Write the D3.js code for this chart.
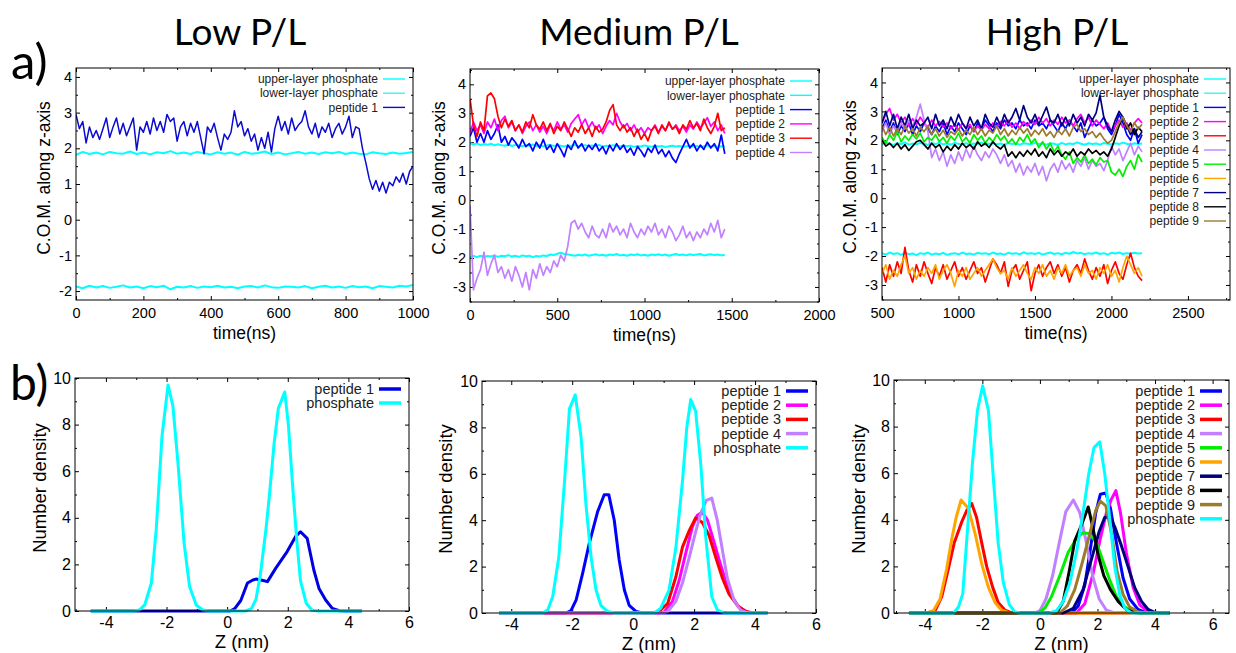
<!DOCTYPE html>
<html>
<head>
<meta charset="utf-8">
<script src="https://cdn.jsdelivr.net/npm/d3@7/dist/d3.min.js"></script>
<style>
  body { margin: 0; background: #fff; }
  svg text { font-family: "Liberation Sans", Arimo, Arial, Helvetica, sans-serif; fill: #111; }
</style>
</head>
<body>
<script>
// ---------- data: a) centre of mass vs time ----------

// Low P/L (t0 = 0, every 10 ns for the peptide, every 20 ns for phosphates)
var lowPeptide1 = [2.95,2.55,2.75,2.15,2.6,2.3,2.5,2.25,2.55,2.85,2.3,2.6,2.85,2.4,2.7,2.35,2.6,2.85,1.95,2.6,
  2.45,2.75,2.4,2.85,2.5,2.75,2.45,2.95,2.75,2.85,2.2,2.6,2.75,2.35,2.7,2.45,2.75,2.3,1.85,2.6,
  2.45,2.7,2.3,1.95,2.4,2.25,2.45,3.05,2.6,2.75,2.35,2.55,2.2,2.4,1.95,2.3,2.0,2.45,1.9,2.55,
  2.9,2.5,2.75,2.4,2.85,2.5,2.65,2.75,3.05,2.6,2.4,2.7,2.3,2.6,2.45,2.7,2.3,2.55,2.7,2.4,
  2.6,2.9,2.3,2.6,2.55,2.0,1.6,1.15,0.85,1.1,0.8,1.05,0.75,1.05,0.95,1.2,1.05,1.3,1.0,1.35,1.5];
var lowUpperPhos = [1.82,1.9,1.84,1.88,1.83,1.9,1.86,1.85,1.91,1.84,1.88,1.83,1.89,1.86,1.92,1.85,1.88,1.84,1.9,1.86,
  1.83,1.89,1.85,1.88,1.82,1.9,1.85,1.87,1.91,1.84,1.88,1.83,1.86,1.9,1.85,1.88,1.84,1.89,1.86,1.9,
  1.84,1.88,1.85,1.83,1.89,1.86,1.84,1.88,1.85,1.87,1.9];
var lowLowerPhos = [-1.87,-1.92,-1.85,-1.9,-1.86,-1.91,-1.88,-1.84,-1.9,-1.87,-1.92,-1.86,-1.89,-1.85,-1.95,-1.88,-1.9,-1.86,-1.91,-1.87,
  -1.89,-1.85,-1.9,-1.88,-1.92,-1.87,-1.86,-1.9,-1.84,-1.89,-1.91,-1.87,-1.88,-1.9,-1.86,-1.92,-1.88,-1.85,-1.9,-1.87,
  -1.91,-1.86,-1.89,-1.87,-1.92,-1.86,-1.88,-1.9,-1.85,-1.87,-1.83];

// Medium P/L (t0 = 0, every 20 ns)
var medPeptide1 = [2.2,2.5,2.0,2.3,2.0,2.4,2.1,2.3,2.6,2.0,2.2,1.9,2.15,2.0,1.8,2.1,1.85,1.95,1.7,2.0,
  1.8,2.1,1.75,1.9,1.65,1.95,1.75,1.5,1.9,1.75,2.05,1.8,1.95,1.7,1.9,1.75,1.95,1.7,1.85,1.6,
  1.9,1.7,1.95,1.75,1.9,1.65,1.8,1.55,1.85,1.7,1.5,1.8,1.65,1.9,1.6,1.75,1.5,1.7,1.45,1.3,
  1.6,1.85,2.1,1.8,1.95,1.7,1.9,1.75,2.0,1.8,1.95,1.7,2.25,1.6];
var medPeptide2 = [2.3,2.7,2.4,2.6,2.3,2.7,2.5,2.8,2.4,2.75,2.9,2.5,2.7,2.4,2.6,2.3,2.55,2.7,2.4,2.6,
  2.35,2.55,2.3,2.6,2.4,2.7,2.45,2.6,2.35,2.65,2.8,2.95,2.6,2.8,2.5,2.7,2.45,2.6,2.3,2.55,
  2.75,2.6,3.0,2.7,2.5,2.65,2.4,2.6,2.35,2.5,2.3,2.5,2.4,2.6,2.35,2.55,2.4,2.65,2.45,2.6,
  2.4,2.55,2.35,2.6,2.45,2.7,2.5,2.65,2.85,2.55,2.7,2.4,2.6,2.3];
var medPeptide3 = [3.5,2.6,2.2,2.7,2.4,3.6,3.7,3.5,2.9,2.5,2.8,2.55,2.75,2.4,2.6,2.35,2.7,2.5,2.95,2.6,
  2.45,2.7,2.4,2.65,2.3,2.55,2.4,2.7,2.45,2.2,2.5,2.35,2.6,2.3,2.5,2.2,2.55,2.35,2.45,2.7,
  3.1,3.3,2.6,2.4,2.6,2.35,2.5,2.2,2.45,2.1,2.3,2.05,2.4,2.55,2.3,2.6,2.4,2.7,2.45,2.55,
  2.3,2.6,2.45,2.75,2.5,2.65,2.4,2.8,2.5,2.3,2.55,3.0,2.4,2.5];
var medPeptide4 = [-0.2,-3.1,-2.7,-2.4,-1.8,-2.6,-2.2,-1.9,-2.5,-2.3,-2.7,-2.4,-2.8,-2.3,-2.6,-3.0,-2.5,-3.1,-2.4,-2.7,
  -2.2,-2.6,-2.3,-2.5,-2.1,-2.3,-1.9,-2.1,-1.6,-0.8,-0.7,-1.0,-0.8,-1.1,-1.3,-0.9,-1.2,-1.3,-1.0,-1.3,
  -0.8,-1.1,-0.9,-1.2,-1.0,-1.3,-0.8,-1.1,-1.3,-1.0,-1.2,-0.9,-1.1,-0.8,-1.2,-1.0,-1.3,-0.9,-1.1,-1.4,
  -1.2,-0.9,-1.3,-1.1,-1.4,-1.1,-1.3,-1.0,-1.2,-0.8,-1.1,-0.7,-1.3,-1.0];
var medUpperPhos = [1.97,1.92,1.96,1.9,1.94,1.91,1.95,1.89,1.93,1.9,1.88,1.92,1.87,1.91,1.89,1.86,1.9,1.88,1.92,1.87,
  1.9,1.86,1.89,1.91,1.87,1.9,1.88,1.85,1.89,1.87,1.91,1.86,1.88,1.9,1.86,1.89,1.87,1.91,1.85,1.88,
  1.86,1.9,1.87,1.85,1.89,1.86,1.88,1.84,1.87,1.85,1.89,1.86,1.84,1.88,1.85,1.87,1.83,1.86,1.88,1.85,
  1.87,1.84,1.86,1.88,1.85,1.87,1.84,1.86,1.89,1.85,1.87,1.84,1.86,1.85];
var medLowerPhos = [-1.98,-1.93,-1.97,-1.92,-1.96,-1.93,-1.95,-1.91,-1.96,-1.92,-1.94,-1.9,-1.95,-1.92,-1.96,-1.91,-1.94,-1.92,-1.97,-1.93,
  -1.95,-1.91,-1.93,-1.88,-1.9,-1.85,-1.82,-1.86,-1.88,-1.9,-1.92,-1.89,-1.91,-1.88,-1.92,-1.9,-1.87,-1.91,-1.89,-1.92,
  -1.88,-1.9,-1.86,-1.91,-1.89,-1.92,-1.88,-1.9,-1.87,-1.91,-1.89,-1.92,-1.88,-1.9,-1.87,-1.91,-1.88,-1.92,-1.89,-1.86,
  -1.9,-1.88,-1.91,-1.87,-1.9,-1.88,-1.86,-1.91,-1.89,-1.87,-1.9,-1.88,-1.91,-1.89];

// High P/L (t0 = 500, every 25 ns)
var highPeptide1 = [2.4,2.7,2.3,2.6,2.2,2.5,2.3,2.6,2.2,2.5,2.3,2.6,2.4,2.2,2.5,2.3,2.6,2.2,2.5,2.3,
  2.6,2.4,2.2,2.5,2.3,2.6,2.4,2.7,2.5,2.3,2.6,2.4,2.7,2.5,2.6,2.4,2.7,2.5,2.6,2.4,
  2.7,2.5,2.6,2.4,2.7,2.5,2.3,2.6,2.4,2.7,2.5,2.3,2.6,2.1,2.4,2.7,2.5,2.6,2.8,2.4,
  2.2,2.5,2.9,2.6,2.2,2.0,2.4,1.9,2.2];
var highPeptide2 = [2.6,2.9,3.1,2.7,2.9,2.6,2.8,2.5,2.75,2.55,2.8,2.6,2.45,2.7,2.5,2.65,2.45,2.6,2.4,2.55,
  2.35,2.6,2.4,2.55,2.3,2.5,2.35,2.55,2.4,2.6,2.45,2.65,2.5,2.7,2.45,2.6,2.4,2.65,2.5,2.7,
  2.55,2.8,2.6,2.75,2.5,2.7,2.55,2.8,2.6,2.7,2.5,2.75,2.9,2.6,2.8,2.5,2.7,2.55,2.4,2.6,
  2.3,2.5,2.7,2.45,2.6,2.35,2.6,2.75,2.6];
var highPeptide3 = [-2.4,-2.9,-2.3,-2.7,-2.2,-2.6,-1.7,-2.5,-2.9,-2.3,-2.7,-2.2,-2.6,-2.95,-2.4,-2.7,-2.3,-2.8,-2.5,-2.2,
  -2.7,-2.4,-2.8,-2.5,-2.2,-2.6,-2.4,-2.9,-2.5,-2.1,-2.3,-2.6,-2.2,-3.05,-2.5,-2.3,-2.8,-2.5,-2.2,-3.2,
  -2.6,-2.3,-2.7,-2.4,-2.2,-2.6,-2.3,-2.7,-2.4,-2.9,-2.5,-2.3,-2.6,-2.1,-2.5,-2.8,-2.4,-2.7,-2.3,-2.95,
  -2.5,-2.2,-2.6,-2.8,-2.3,-1.9,-2.4,-2.7,-2.85];
var highPeptide4 = [2.3,2.6,2.2,2.5,2.3,2.6,2.4,2.7,2.5,2.8,3.25,2.7,2.3,1.4,1.7,1.3,1.6,1.1,1.5,1.2,
  1.6,1.3,1.7,1.4,1.8,1.5,1.3,1.6,1.4,1.7,1.5,1.2,1.5,1.1,1.3,0.9,1.2,0.8,1.1,0.9,
  1.2,0.8,1.1,0.6,1.0,1.2,0.9,1.3,1.0,1.2,0.9,1.3,1.1,1.4,1.0,1.3,1.1,1.2,0.95,1.3,
  1.8,1.5,1.7,1.3,1.6,1.9,1.5,1.8,1.6];
var highPeptide5 = [2.1,1.9,2.2,2.0,2.3,1.95,2.15,2.0,2.2,2.05,2.25,1.95,2.1,2.0,2.2,1.95,2.1,1.9,2.15,2.0,
  2.25,1.95,2.1,1.9,2.2,2.0,2.15,1.9,2.1,1.95,2.2,2.0,2.15,1.9,2.05,1.85,2.1,1.95,2.2,1.9,
  2.05,1.75,1.95,1.7,1.9,1.6,1.8,1.5,1.35,1.6,1.2,1.4,1.25,1.5,1.2,1.35,1.15,1.4,1.25,1.3,
  0.9,0.8,1.0,0.75,1.1,1.3,1.0,1.5,1.25];
var highPeptide6 = [-2.6,-2.3,-2.8,-2.5,-2.7,-2.3,-2.0,-2.6,-2.4,-2.8,-2.5,-2.7,-2.4,-2.6,-2.3,-2.8,-2.5,-2.3,-2.6,-3.05,
  -2.5,-2.7,-2.4,-2.8,-2.6,-2.4,-2.7,-2.5,-2.3,-2.1,-2.4,-2.6,-2.5,-2.8,-2.4,-2.7,-2.5,-2.3,-2.6,-2.8,
  -2.4,-2.6,-2.3,-2.7,-2.5,-2.8,-2.4,-2.6,-2.3,-2.7,-2.5,-2.4,-2.7,-2.3,-2.6,-2.5,-2.8,-2.4,-2.6,-2.3,
  -2.7,-2.5,-2.9,-2.4,-2.0,-2.3,-2.6,-2.4,-2.7];
var highPeptide7 = [2.6,3.0,2.5,2.9,2.4,2.8,2.5,2.9,2.4,2.7,2.5,2.6,2.8,2.4,2.9,2.5,2.7,2.4,2.8,2.5,
  2.9,2.6,2.4,2.8,2.5,2.7,2.4,2.9,2.6,2.45,2.8,2.5,2.9,2.6,2.8,3.1,2.7,3.2,2.8,2.6,
  2.9,2.55,2.85,3.15,2.7,2.6,2.9,2.5,2.8,2.5,2.9,2.6,2.8,2.5,2.9,2.7,2.95,3.55,2.8,2.5,
  2.3,2.7,3.0,2.8,2.5,2.2,2.4,2.1,2.3];
var highPeptide8 = [2.0,1.8,1.9,1.75,1.9,1.7,1.85,1.65,1.8,1.95,2.0,1.85,1.7,1.9,1.75,1.85,1.6,1.8,1.65,1.85,
  1.7,1.9,1.75,1.85,1.7,1.95,1.8,1.9,1.75,1.95,1.8,1.7,1.85,1.45,1.6,1.4,1.6,1.45,1.65,1.5,
  1.7,1.45,1.6,1.4,1.7,1.5,1.65,1.45,1.6,1.5,1.7,1.45,1.6,1.5,1.7,1.55,1.65,1.5,1.6,1.45,
  1.7,2.1,2.5,2.8,2.4,2.6,2.2,2.45,2.3];
var highPeptide9 = [2.5,2.2,2.45,2.15,2.4,2.2,2.5,2.25,2.4,2.15,2.45,2.3,2.5,2.2,2.4,2.15,2.35,2.1,2.3,2.2,
  2.4,2.15,2.35,2.2,2.45,2.2,2.4,2.15,2.35,2.25,2.5,2.2,2.4,2.15,2.35,2.2,2.45,2.25,2.4,2.15,
  2.35,2.2,2.4,2.15,2.3,2.1,2.35,2.2,2.4,2.15,2.45,2.55,2.3,2.4,2.2,2.3,2.1,2.25,2.05,1.9,
  2.0,2.3,2.6,2.8,2.5,2.3,2.6,2.4,2.55];
var highUpperPhos = [1.86,1.92,1.88,1.84,1.9,1.87,1.93,1.85,1.89,1.86,1.91,1.88,1.84,1.9,1.87,1.92,1.86,1.89,1.85,1.91,
  1.88,1.86,1.9,1.84,1.89,1.87,1.92,1.85,1.88,1.9,1.86,1.89,1.84,1.91,1.87,1.89,1.85,1.9,1.88,1.86,
  1.92,1.87,1.89,1.85,1.9,1.88,1.84,1.91,1.86,1.89,1.87,1.93,1.88,1.85,1.9,1.87,1.89,1.85,1.91,1.88,
  1.86,1.9,1.87,1.92,1.88,1.85,1.9,1.87,1.89];
var highLowerPhos = [-1.9,-1.95,-1.88,-1.93,-1.9,-1.96,-1.89,-1.94,-1.91,-1.97,-1.9,-1.93,-1.88,-1.95,-1.91,-1.94,-1.89,-1.96,-1.92,-1.9,
  -1.94,-1.88,-1.93,-1.91,-1.95,-1.89,-1.92,-1.9,-1.94,-1.88,-1.93,-1.91,-1.95,-1.89,-1.92,-1.9,-1.94,-1.87,-1.92,-1.9,
  -1.93,-1.89,-1.95,-1.91,-1.88,-1.93,-1.9,-1.94,-1.89,-1.92,-1.86,-1.91,-1.89,-1.94,-1.9,-1.92,-1.88,-1.93,-1.9,-1.95,
  -1.89,-1.91,-1.88,-1.93,-1.9,-1.92,-1.89,-1.91,-1.9];

// ---------- data: b) number density vs Z, [z (nm), density] ----------
var lowDensPeptide1 = [[-4.5,0],[0.1,0],[0.25,0.1],[0.45,0.45],[0.67,1.2],[0.85,1.33],[0.95,1.37],[1.15,1.32],[1.33,1.26],
  [1.6,1.83],[1.98,2.55],[2.26,3.2],[2.42,3.4],[2.64,3.12],[2.86,1.76],[3.03,0.97],[3.25,0.47],[3.47,0.11],[3.7,0.01],[3.9,0],[4.45,0]];
var lowDensPhos = [[-4.5,0],[-3.1,0],[-2.9,0.04],[-2.72,0.26],[-2.5,1.2],[-2.34,3.5],[-2.15,7.5],[-1.95,9.7],[-1.79,8.8],
  [-1.62,6.3],[-1.42,2.9],[-1.24,1.05],[-1.02,0.26],[-0.8,0.04],[-0.6,0],[0.6,0],[0.8,0.1],[0.95,0.5],[1.09,1.5],[1.28,3.5],
  [1.39,4.9],[1.55,7.2],[1.69,8.7],[1.9,9.4],[2.02,8.0],[2.17,5.2],[2.3,3.0],[2.42,1.3],[2.61,0.33],[2.8,0.03],[3.0,0],[4.45,0]];

var medDensPeptide1 = [[-4.4,0],[-2.2,0],[-2.04,0.1],[-1.87,0.57],[-1.66,1.7],[-1.44,3.0],[-1.17,4.35],[-0.95,5.1],[-0.8,5.1],
  [-0.62,4.0],[-0.46,2.3],[-0.29,1.0],[-0.13,0.33],[0.09,0.07],[0.31,0],[4.4,0]];
var medDensPeptide2 = [[-4.4,0],[0.85,0],[1.02,0.05],[1.29,0.5],[1.51,1.4],[1.73,2.6],[1.94,3.7],[2.1,4.2],[2.27,4.35],[2.44,4.0],
  [2.6,3.3],[2.82,2.3],[3.03,1.4],[3.25,0.7],[3.47,0.25],[3.74,0.05],[3.96,0],[4.4,0]];
var medDensPeptide3 = [[-4.4,0],[0.7,0],[0.85,0.07],[1.13,0.4],[1.4,1.55],[1.62,2.85],[1.84,3.55],[2.05,4.1],[2.27,3.9],[2.49,3.35],
  [2.71,2.4],[2.93,1.5],[3.14,0.83],[3.42,0.33],[3.69,0.07],[3.9,0],[4.4,0]];
var medDensPeptide4 = [[-4.4,0],[0.95,0],[1.13,0.05],[1.4,0.5],[1.62,1.3],[1.84,2.4],[2.05,3.5],[2.22,4.3],[2.4,4.85],[2.58,4.95],
  [2.76,4.0],[2.93,2.7],[3.09,1.5],[3.31,0.55],[3.53,0.12],[3.74,0],[4.4,0]];
var medDensPhos = [[-4.4,0],[-2.96,0],[-2.8,0.14],[-2.64,0.7],[-2.44,2.4],[-2.25,5.7],[-2.09,8.8],[-1.9,9.4],[-1.71,7.6],[-1.55,4.7],
  [-1.38,2.4],[-1.22,1.0],[-1.06,0.33],[-0.84,0.07],[-0.62,0],[0.69,0],[0.9,0.2],[1.18,1.0],[1.4,2.8],[1.62,5.7],[1.76,8.0],
  [1.89,9.2],[2.05,8.7],[2.22,6.4],[2.38,3.3],[2.58,0.7],[2.76,0.14],[2.98,0],[4.4,0]];

var highDensPeptide1 = [[-4.55,0],[1.1,0],[1.33,0.3],[1.56,1.2],[1.76,2.8],[1.94,4.3],[2.1,5.1],[2.29,5.15],[2.45,4.5],[2.66,3.0],
  [2.89,1.5],[3.12,0.6],[3.41,0.15],[3.7,0],[4.5,0]];
var highDensPeptide2 = [[-4.55,0],[1.27,0],[1.56,0.4],[1.85,1.7],[2.1,3.2],[2.31,4.3],[2.49,4.9],[2.64,5.25],[2.8,4.3],[3.0,2.6],
  [3.24,1.1],[3.47,0.35],[3.76,0.05],[3.99,0],[4.5,0]];
var highDensPeptide3 = [[-4.55,0],[-3.93,0],[-3.64,0.1],[-3.41,0.7],[-3.18,1.9],[-2.98,3.0],[-2.72,3.9],[-2.54,4.4],[-2.37,4.7],
  [-2.2,4.1],[-2.02,3.0],[-1.85,2.0],[-1.64,1.1],[-1.45,0.45],[-1.21,0.12],[-0.98,0],[4.5,0]];
var highDensPeptide4 = [[-4.55,0],[-0.17,0],[0,0.1],[0.21,0.6],[0.44,1.6],[0.67,3.0],[0.9,4.35],[1.16,4.85],[1.39,4.3],[1.6,3.1],
  [1.83,1.6],[2.06,0.6],[2.31,0.12],[2.6,0],[4.5,0]];
var highDensPeptide5 = [[-4.55,0],[-0.06,0],[0.17,0.2],[0.4,0.7],[0.69,1.6],[0.98,2.6],[1.27,3.2],[1.5,3.45],[1.73,3.4],[1.97,3.0],
  [2.2,2.2],[2.43,1.4],[2.66,0.7],[2.95,0.25],[3.24,0.05],[3.47,0],[4.5,0]];
var highDensPeptide6 = [[-4.55,0],[-3.93,0],[-3.7,0.1],[-3.47,0.6],[-3.24,1.9],[-3.06,3.2],[-2.91,4.1],[-2.74,4.85],[-2.49,4.5],
  [-2.25,3.4],[-2.02,2.1],[-1.79,1.1],[-1.56,0.45],[-1.33,0.12],[-1.04,0],[4.5,0]];
var highDensPeptide7 = [[-4.55,0],[0.81,0],[1.16,0.2],[1.5,1.0],[1.79,2.3],[2.06,3.5],[2.25,4.1],[2.43,4.15],[2.6,3.7],[2.83,2.9],
  [3.06,2.0],[3.29,1.1],[3.53,0.5],[3.76,0.15],[3.99,0.03],[4.22,0],[4.5,0]];
var highDensPeptide8 = [[-4.55,0],[0.58,0],[0.81,0.5],[1.02,1.8],[1.21,3.1],[1.45,3.8],[1.68,4.55],[1.85,3.6],[2.02,2.5],[2.22,1.6],
  [2.45,1.0],[2.72,0.5],[3.0,0.15],[3.29,0.02],[3.53,0],[4.5,0]];
var highDensPeptide9 = [[-4.55,0],[0.69,0],[0.95,0.3],[1.21,1.0],[1.48,2.2],[1.73,3.4],[1.94,4.4],[2.1,4.8],[2.29,4.6],[2.49,3.4],
  [2.68,1.8],[2.89,0.8],[3.12,0.25],[3.41,0.05],[3.64,0],[4.5,0]];
var highDensPhos = [[-4.55,0],[-3.0,0],[-2.83,0.26],[-2.68,0.83],[-2.52,3.5],[-2.34,6.5],[-2.17,8.7],[-1.99,9.75],[-1.79,8.7],
  [-1.6,5.5],[-1.45,3.0],[-1.27,1.3],[-1.06,0.35],[-0.87,0.05],[-0.69,0],[0.35,0],[0.58,0.1],[0.81,0.5],[1.04,1.3],[1.27,2.6],
  [1.5,4.3],[1.7,6.0],[1.88,7.1],[2.08,7.35],[2.25,6.0],[2.43,4.0],[2.6,2.0],[2.77,0.8],[2.95,0.2],[3.18,0],[4.5,0]];

// ---------- tick values ----------
var lowTimeTicks = [0, 200, 400, 600, 800, 1000];
var medTimeTicks = [0, 500, 1000, 1500, 2000];
var highTimeTicks = [500, 1000, 1500, 2000, 2500];
var comTicksLow = [-2, -1, 0, 1, 2, 3, 4];
var comTicks = [-3, -2, -1, 0, 1, 2, 3, 4];
var zTicks = [-4, -2, 0, 2, 4, 6];
var densTicks = [0, 2, 4, 6, 8, 10];

var titles = ["Low P/L", "Medium P/L", "High P/L"];

// colours
var cyan = "#00ffff", cyanLow = "#3ff2f2", blue = "#0000ff", magenta = "#ff00ff", red = "#ff0000",
  lavender = "#c080ff", green = "#00ee00", orange = "#ffa500", navy = "#000080", black = "#000000", brown = "#9c7b2c";

var plainFont = "'Liberation Sans', Arimo, Arial, Helvetica, sans-serif";

var svg = d3.select("body").append("svg")
  .attr("width", 1236)
  .attr("height", 653);

// titles and panel letters
[240, 639, 1057].forEach(function (cx, i) {
  svg.append("text").attr("x", cx).attr("y", 45).attr("text-anchor", "middle")
    .style("font-family", "Lato, 'Open Sans', sans-serif").style("font-size", "37px").style("fill", "#000")
    .text(titles[i]);
});
svg.append("text").attr("x", 11).attr("y", 79).style("font-family", "Lato, sans-serif")
  .style("font-size", "49px").style("fill", "#000").text("a)");
svg.append("text").attr("x", 10).attr("y", 400).style("font-family", "Lato, sans-serif")
  .style("font-size", "48px").style("fill", "#000").text("b)");

var clipCount = 0;

function minorBetween(ticks, step) {
  // minor ticks halfway between majors, plus one beyond each end
  var out = [];
  ticks.forEach(function (t) { out.push(t - step / 2); });
  out.push(ticks[ticks.length - 1] + step / 2);
  return out;
}

function drawPanel(p) {
  var x = d3.scaleLinear().domain(p.xDomain).range([p.left, p.right]);
  var y = d3.scaleLinear().domain(p.yDomain).range([p.bottom, p.top]);
  var g = svg.append("g");
  var id = "clip" + (clipCount++);
  svg.append("clipPath").attr("id", id).append("rect")
    .attr("x", p.left).attr("y", p.top)
    .attr("width", p.right - p.left).attr("height", p.bottom - p.top + p.clipExtra);

  var xMinor = minorBetween(p.xTicks, p.xTicks[1] - p.xTicks[0]).filter(function (v) { return v > p.xDomain[0] && v < p.xDomain[1]; });
  var yMinor = minorBetween(p.yTicks, p.yTicks[1] - p.yTicks[0]).filter(function (v) { return v > p.yDomain[0] && v < p.yDomain[1]; });
  var fmt = function (d) { return String(d); };

  var axB = g.append("g").attr("transform", "translate(0," + p.bottom + ")")
    .call(d3.axisBottom(x).tickValues(p.xTicks).tickSize(-4).tickPadding(p.xPad).tickFormat(fmt));
  var axL = g.append("g").attr("transform", "translate(" + p.left + ",0)")
    .call(d3.axisLeft(y).tickValues(p.yTicks).tickSize(-4).tickPadding(4).tickFormat(fmt));
  g.append("g").attr("transform", "translate(0," + p.top + ")")
    .call(d3.axisTop(x).tickValues(p.xTicks).tickSize(-4).tickFormat(""));
  g.append("g").attr("transform", "translate(" + p.right + ",0)")
    .call(d3.axisRight(y).tickValues(p.yTicks).tickSize(-4).tickFormat(""));
  g.append("g").attr("transform", "translate(0," + p.bottom + ")")
    .call(d3.axisBottom(x).tickValues(xMinor).tickSize(-2).tickFormat(""));
  g.append("g").attr("transform", "translate(0," + p.top + ")")
    .call(d3.axisTop(x).tickValues(xMinor).tickSize(-2).tickFormat(""));
  g.append("g").attr("transform", "translate(" + p.left + ",0)")
    .call(d3.axisLeft(y).tickValues(yMinor).tickSize(-2).tickFormat(""));
  g.append("g").attr("transform", "translate(" + p.right + ",0)")
    .call(d3.axisRight(y).tickValues(yMinor).tickSize(-2).tickFormat(""));
  g.selectAll(".domain").remove();
  g.selectAll(".tick line").attr("stroke", "#000");
  [axB, axL].forEach(function (ax) {
    ax.selectAll("text").style("font-family", plainFont)
      .style("font-size", p.tickFont + "px").style("fill", "#000");
  });

  var line = d3.line().x(function (d) { return x(d[0]); }).y(function (d) { return y(d[1]); });
  var lines = g.append("g").attr("clip-path", "url(#" + id + ")");
  p.series.forEach(function (s) {
    var pts = s.points || s.values.map(function (v, i) { return [s.t0 + i * s.dt, v]; });
    lines.append("path").datum(pts)
      .attr("d", line)
      .attr("fill", "none")
      .attr("stroke", s.color)
      .attr("stroke-width", s.width || p.lineWidth)
      .attr("stroke-linejoin", "round");
  });

  g.append("rect")
    .attr("x", p.left).attr("y", p.top)
    .attr("width", p.right - p.left).attr("height", p.bottom - p.top)
    .attr("fill", "none").attr("stroke", "#000").attr("stroke-width", 1);

  // legend, gnuplot style: label right-aligned, sample to its right
  p.series.forEach(function (s, i) {
    var ly = p.legY + i * p.legStep;
    g.append("text").attr("x", p.legX).attr("y", ly).attr("dy", "0.35em")
      .attr("text-anchor", "end").style("font-family", plainFont)
      .style("font-size", p.legFont + "px").style("fill", "#222")
      .text(s.name);
    g.append("line").attr("x1", p.legX + 5).attr("x2", p.legX + 27).attr("y1", ly).attr("y2", ly)
      .attr("stroke", s.legColor || s.color).attr("stroke-width", p.legWidth);
  });

  // axis titles
  g.append("text").attr("x", (p.left + p.right) / 2).attr("y", p.xTitleY).attr("text-anchor", "middle")
    .style("font-family", plainFont)
    .style("font-size", p.titleFont + "px").style("fill", "#000").text(p.xTitle);
  g.append("text").attr("transform", "translate(" + p.yTitleX + "," + p.yTitleY + ") rotate(-90)")
    .attr("text-anchor", "middle").attr("dy", "0.35em").style("font-family", plainFont)
    .style("font-size", p.titleFont + "px").style("fill", "#000").text(p.yTitle);
}

var aCommon = { xPad: 8, tickFont: 14.5, lineWidth: 1.7, legFont: 12, legWidth: 1.4, titleFont: 17.5, clipExtra: 0,
  xTitle: "time(ns)", yTitle: "C.O.M. along z-axis" };
var bCommon = { xPad: 6, tickFont: 16, lineWidth: 3, legFont: 14.5, legWidth: 3.5, titleFont: 18.5, clipExtra: 2,
  xTitle: "Z (nm)", yTitle: "Number density", xTicks: zTicks, yTicks: densTicks, yDomain: [0, 10] };

drawPanel(Object.assign({}, aCommon, {
  left: 76, right: 413, top: 68, bottom: 300, xDomain: [0, 1000], yDomain: [-2.25, 4.25],
  xTicks: lowTimeTicks, yTicks: comTicksLow, legX: 378, legY: 79, legStep: 14.2,
  xTitleY: 339, yTitleX: 44, yTitleY: 178,
  series: [
    { name: "upper-layer phosphate", values: lowUpperPhos, t0: 0, dt: 20, color: cyan, width: 2 },
    { name: "lower-layer phosphate", values: lowLowerPhos, t0: 0, dt: 20, color: cyan, legColor: cyanLow, width: 2 },
    { name: "peptide 1", values: lowPeptide1, t0: 0, dt: 10, color: "#0a0ad2", width: 1.5 }
  ]
}));

drawPanel(Object.assign({}, aCommon, {
  left: 470, right: 819, top: 69, bottom: 302, xDomain: [0, 2000], yDomain: [-3.52, 4.53],
  xTicks: medTimeTicks, yTicks: comTicks, legX: 785, legY: 81, legStep: 14.3,
  xTitleY: 341, yTitleX: 439, yTitleY: 178,
  series: [
    { name: "upper-layer phosphate", values: medUpperPhos, t0: 0, dt: 20, color: cyan, width: 2 },
    { name: "lower-layer phosphate", values: medLowerPhos, t0: 0, dt: 20, color: cyan, width: 2 },
    { name: "peptide 1", values: medPeptide1, t0: 0, dt: 20, color: blue },
    { name: "peptide 2", values: medPeptide2, t0: 0, dt: 20, color: magenta },
    { name: "peptide 3", values: medPeptide3, t0: 0, dt: 20, color: red },
    { name: "peptide 4", values: medPeptide4, t0: 0, dt: 20, color: lavender }
  ]
}));

drawPanel(Object.assign({}, aCommon, {
  left: 882, right: 1230, top: 68, bottom: 300, xDomain: [500, 2775], yDomain: [-3.52, 4.5],
  xTicks: highTimeTicks, yTicks: comTicks, legX: 1199, legY: 79, legStep: 14.2,
  xTitleY: 339, yTitleX: 850, yTitleY: 177,
  series: [
    { name: "upper-layer phosphate", values: highUpperPhos, t0: 500, dt: 25, color: cyan, width: 2 },
    { name: "lower-layer phosphate", values: highLowerPhos, t0: 500, dt: 25, color: cyan, legColor: cyanLow, width: 2 },
    { name: "peptide 1", values: highPeptide1, t0: 500, dt: 25, color: blue },
    { name: "peptide 2", values: highPeptide2, t0: 500, dt: 25, color: magenta },
    { name: "peptide 3", values: highPeptide3, t0: 500, dt: 25, color: red },
    { name: "peptide 4", values: highPeptide4, t0: 500, dt: 25, color: lavender },
    { name: "peptide 5", values: highPeptide5, t0: 500, dt: 25, color: green },
    { name: "peptide 6", values: highPeptide6, t0: 500, dt: 25, color: orange },
    { name: "peptide 7", values: highPeptide7, t0: 500, dt: 25, color: navy },
    { name: "peptide 8", values: highPeptide8, t0: 500, dt: 25, color: black },
    { name: "peptide 9", values: highPeptide9, t0: 500, dt: 25, color: brown }
  ]
}));

drawPanel(Object.assign({}, bCommon, {
  left: 75, right: 409, top: 378, bottom: 611, xDomain: [-5.02, 6],
  legX: 374, legY: 389, legStep: 14,
  xTitleY: 648, yTitleX: 40, yTitleY: 488,
  series: [
    { name: "peptide 1", points: lowDensPeptide1, color: "#0000e0" },
    { name: "phosphate", points: lowDensPhos, color: cyan }
  ]
}));

drawPanel(Object.assign({}, bCommon, {
  left: 482, right: 816, top: 381, bottom: 613, xDomain: [-4.96, 6],
  legX: 781, legY: 391, legStep: 14.2,
  xTitleY: 650, yTitleX: 446, yTitleY: 489,
  series: [
    { name: "peptide 1", points: medDensPeptide1, color: blue },
    { name: "peptide 2", points: medDensPeptide2, color: magenta },
    { name: "peptide 3", points: medDensPeptide3, color: red },
    { name: "peptide 4", points: medDensPeptide4, color: lavender },
    { name: "phosphate", points: medDensPhos, color: cyan }
  ]
}));

drawPanel(Object.assign({}, bCommon, {
  left: 894, right: 1229, top: 380, bottom: 613, xDomain: [-5.07, 6.57],
  legX: 1195, legY: 391, legStep: 14.2,
  xTitleY: 650, yTitleX: 859, yTitleY: 489,
  series: [
    { name: "peptide 1", points: highDensPeptide1, color: blue },
    { name: "peptide 2", points: highDensPeptide2, color: magenta },
    { name: "peptide 3", points: highDensPeptide3, color: red },
    { name: "peptide 4", points: highDensPeptide4, color: lavender },
    { name: "peptide 5", points: highDensPeptide5, color: green },
    { name: "peptide 6", points: highDensPeptide6, color: orange },
    { name: "peptide 7", points: highDensPeptide7, color: navy },
    { name: "peptide 8", points: highDensPeptide8, color: black },
    { name: "peptide 9", points: highDensPeptide9, color: brown },
    { name: "phosphate", points: highDensPhos, color: cyan }
  ]
}));
</script>
</body>
</html>
